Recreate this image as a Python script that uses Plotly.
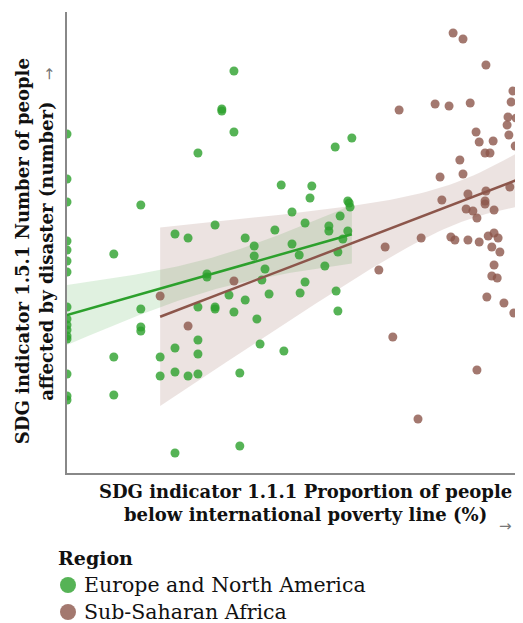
import numpy as np
import plotly.graph_objects as go

# x: proportion below poverty line (%), y: people affected by disaster (log scale units)
europe_x = [37.1, 34.4, 34.4, 37.1, 29.1, 0, 0, 0, 16.4, 24.0, 26.9, 32.9, 39.6, 41.6, 41.6,
            0, 0, 0, 0, 10.4, 31.1, 31.1, 36.0, 39.6, 0, 16.4, 29.1, 32.9, 32.9, 37.1, 42.2,
            0, 0, 0, 0, 0, 16.4, 16.4, 42.9, 29.1, 24.0, 20.7, 29.1, 10.4, 0, 20.7, 24.0,
            26.9, 29.1, 38.4, 10.4, 0, 0, 38.4, 24.0, 63.3, 59.6, 47.6, 54.4, 54.0, 62.4,
            62.7, 62.9, 50.0, 60.7, 52.9, 58.2, 58.2, 46.2, 62.4, 50.0, 61.3, 51.6, 60.2,
            57.3, 44.0, 43.3, 52.9, 44.9, 51.8, 59.8, 60.2, 48.2]
europe_y = [8.04, 7.28, 7.24, 6.82, 6.40, 6.78, 5.88, 5.42, 5.36, 4.78, 4.70, 4.96, 4.70, 4.54, 4.34,
            4.64, 4.46, 4.24, 4.02, 4.38, 3.98, 3.92, 3.56, 3.46, 3.32, 3.28, 3.32, 3.32, 3.28, 3.22, 3.08,
            3.08, 2.96, 2.86, 2.74, 2.68, 2.92, 2.84, 2.58, 2.66, 2.50, 2.32, 2.38, 2.32, 1.98, 1.94, 2.02,
            1.94, 1.98, 2.00, 1.56, 1.54, 1.46, 0.54, 0.40, 6.70, 6.52, 5.76, 5.74, 5.50, 5.44,
            5.40, 5.32, 5.22, 5.14, 5.00, 4.94, 4.84, 4.86, 4.84, 4.58, 4.68, 4.36, 4.42,
            4.14, 4.08, 3.86, 3.82, 3.58, 3.60, 3.64, 3.24, 2.44]

africa_x = [20.7, 26.9, 37.1, 85.8, 88.0, 93.1, 99.1, 98.7, 98.0, 99.8, 97.8, 98.2, 99.6, 81.8,
            84.9, 89.6, 73.8, 90.9, 91.6, 94.7, 92.9, 94.0, 87.3, 88.0, 82.9, 98.4, 89.1, 93.1,
            83.3, 92.9, 92.9, 94.9, 88.7, 90.2, 91.1, 78.7, 85.3, 86.2, 89.1, 91.6, 93.6, 94.9,
            95.8, 94.4, 96.2, 70.7, 69.3, 94.9, 94.4, 95.6, 93.3, 97.1, 99.3, 72.4, 91.1, 78.0]
africa_y = [3.54, 2.94, 3.84, 8.80, 8.68, 8.16, 7.64, 7.42, 7.12, 7.10, 6.96, 6.76, 6.54, 7.38,
            7.34, 7.40, 7.26, 6.82, 6.62, 6.64, 6.40, 6.40, 6.26, 5.98, 5.92, 5.72, 5.58, 5.64,
            5.46, 5.44, 5.38, 5.26, 5.28, 5.24, 5.10, 4.70, 4.72, 4.66, 4.66, 4.62, 4.74, 4.80,
            4.70, 4.52, 4.42, 4.52, 4.06, 4.16, 3.94, 3.90, 3.52, 3.40, 3.20, 2.72, 2.06, 1.08]

regions = ["Europe and North America", "Sub-Saharan Africa"]
point_colors = ["rgba(44,160,44,0.8)", "rgba(140,86,75,0.8)"]
line_colors = ["#2ca02c", "#8c564b"]
band_colors = ["rgba(44,160,44,0.15)", "rgba(140,86,75,0.17)"]

FONT = "DejaVu Serif"


# linear fit with a 95% confidence band
def fit_band(x, y):
    x = np.array(x)
    y = np.array(y)
    n = len(x)
    b, a = np.polyfit(x, y, 1)
    xs = np.linspace(x.min(), x.max(), 60)
    ys = a + b * xs
    resid = y - (a + b * x)
    s = np.sqrt((resid ** 2).sum() / (n - 2))
    sxx = ((x - x.mean()) ** 2).sum()
    half = 1.98 * s * np.sqrt(1 / n + (xs - x.mean()) ** 2 / sxx)
    return xs, ys, ys + half, ys - half


fig = go.Figure()

data = [(europe_x, europe_y), (africa_x, africa_y)]
for i, (x, y) in enumerate(data):
    xs, ys, up, lo = fit_band(x, y)
    fig.add_trace(go.Scatter(
        x=np.concatenate([xs, xs[::-1]]), y=np.concatenate([up, lo[::-1]]),
        fill="toself", fillcolor=band_colors[i], line=dict(width=0),
        mode="lines", hoverinfo="skip", showlegend=False))

for i, (x, y) in enumerate(data):
    fig.add_trace(go.Scatter(
        x=x, y=y, mode="markers", name=regions[i], showlegend=False,
        marker=dict(size=9, color=point_colors[i])))

for i, (x, y) in enumerate(data):
    xs, ys, up, lo = fit_band(x, y)
    fig.add_trace(go.Scatter(
        x=xs, y=ys, mode="lines", line=dict(color=line_colors[i], width=2.5),
        showlegend=False, hoverinfo="skip"))

fig.update_xaxes(range=[0, 100], showline=True, linecolor="#888", linewidth=2,
                 showgrid=False, zeroline=False, showticklabels=False, ticks="")
fig.update_yaxes(range=[0, 9.22], showline=True, linecolor="#888", linewidth=2,
                 showgrid=False, zeroline=False, showticklabels=False, ticks="")

# axis titles, with a small grey arrow next to each
fig.add_annotation(
    text="<b>SDG indicator 1.1.1 Proportion of people<br>below international poverty line (%)</b>",
    xref="paper", yref="paper", x=0.53, y=-0.012, xanchor="center", yanchor="top",
    align="center", showarrow=False, font=dict(family=FONT, size=18, color="#111"))
fig.add_annotation(text="→", xref="paper", yref="paper", x=0.975, y=-0.115,
                   xanchor="center", yanchor="middle",
                   showarrow=False, font=dict(family="DejaVu Sans", size=15, color="#777"))
fig.add_annotation(
    text="<b>SDG indicator 1.5.1 Number of people<br>affected by disaster (number)</b>",
    xref="paper", yref="paper", x=-0.073, y=0.4816, xanchor="center", yanchor="middle",
    textangle=-90, align="center", showarrow=False, font=dict(family=FONT, size=18, color="#111"))
fig.add_annotation(text="→", xref="paper", yref="paper", x=-0.04, y=0.865, textangle=-90,
                   xanchor="center", yanchor="middle",
                   showarrow=False, font=dict(family="DejaVu Sans", size=15, color="#777"))

# legend drawn by hand: title, circles and labels
fig.add_annotation(text="<b>Region</b>", xref="paper", yref="paper", x=-0.024, y=-0.184,
                   xanchor="left", yanchor="middle", showarrow=False,
                   font=dict(family=FONT, size=19, color="#111"))
legend_y = [-0.243, -0.3015]
for i in range(2):
    fig.add_shape(type="circle", xref="paper", yref="paper",
                  xsizemode="pixel", ysizemode="pixel", xanchor=0.0022, yanchor=legend_y[i],
                  x0=-8, x1=8, y0=-8, y1=8, fillcolor=point_colors[i], line=dict(width=0))
    fig.add_annotation(text=regions[i], xref="paper", yref="paper", x=0.033, y=legend_y[i],
                       xanchor="left", yanchor="middle", showarrow=False,
                       font=dict(family=FONT, size=20.5, color="#111"))

# the page puts the chart 8px in from the top-left corner, so size it to fit
fig.update_layout(
    width=515, height=615,
    margin=dict(l=59, r=6, t=4, b=150, autoexpand=False),
    plot_bgcolor="white", paper_bgcolor="white",
    font=dict(family=FONT, color="#111"),
    showlegend=False,
)

fig.write_html("out.html")
